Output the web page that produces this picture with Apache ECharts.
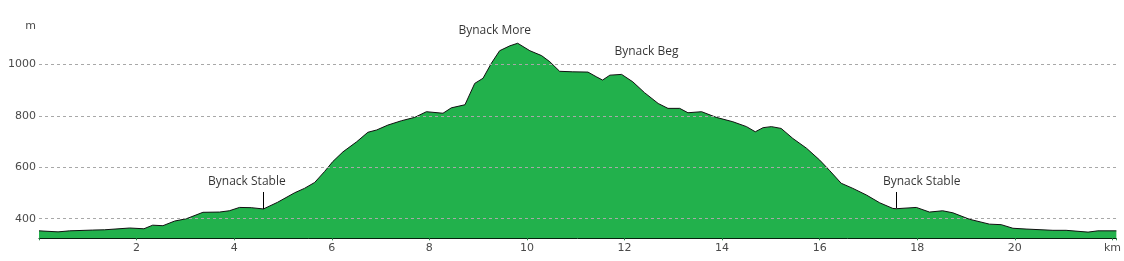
<!DOCTYPE html>
<html><head><meta charset="utf-8">
<script src="https://cdn.jsdelivr.net/npm/echarts@6/dist/echarts.min.js"></script>
<style>html,body{margin:0;padding:0;background:#fff}#c{width:1124px;height:261px}</style>
</head><body><div id="c"></div>
<script>
// distance along route (km) and elevation (m)
const distKm = [0.00,0.39,0.63,1.10,1.34,1.86,2.15,2.33,2.54,2.78,3.02,3.36,3.70,3.90,4.11,4.35,4.60,4.89,5.24,5.44,5.65,5.85,6.02,6.23,6.51,6.74,6.92,7.15,7.43,7.70,7.94,8.28,8.45,8.73,8.93,9.10,9.27,9.44,9.65,9.81,10.06,10.30,10.47,10.67,10.94,11.25,11.42,11.55,11.70,11.94,12.17,12.41,12.69,12.89,13.13,13.30,13.58,13.88,14.22,14.50,14.68,14.84,15.01,15.21,15.45,15.73,16.00,16.20,16.44,16.68,16.96,17.23,17.50,17.57,17.98,18.25,18.52,18.73,19.07,19.48,19.72,19.96,20.23,20.78,21.05,21.50,21.70,22.08];
const elevM = [353,349,353,356,357,364,361,375,373,391,400,425,426,431,444,443,438,464,501,518,541,583,622,660,699,736,745,764,781,794,816,810,831,843,926,946,1004,1053,1072,1082,1053,1034,1010,973,971,970,952,939,958,961,932,890,848,829,829,812,816,794,777,758,738,754,758,751,712,674,628,588,538,518,492,462,440,439,444,426,431,423,398,379,377,363,360,355,355,348,353,353];

// y grid levels (m) and x tick labels (km)
const gridLevels = [400,600,800,1000];
const xTicks = [2,4,6,8,10,12,14,16,18,20];
const xUnitTick = 22;

// points of interest
const poiNames = ['Bynack Stable','Bynack More','Bynack Beg','Bynack Stable'];
const poiLabelKm = [4.26, 9.34, 12.45, 18.09];
const poiLabelElev = [543, 1133, 1048, 546];
const leaderKm = [4.59, 17.56];
const leaderFrom = [438, 441];
const leaderTo = [504, 504];

const pairs = distKm.map((k,i)=>[k, elevM[i]]);
const FONT = 'DejaVu Sans';
const LABEL_COLOR = '#4a4a4a';

const chart = echarts.init(document.getElementById('c'), null, {renderer:'canvas'});
chart.setOption({
  animation:false,
  backgroundColor:'#fff',
  grid:{left:39, right:6.7, top:12.9, bottom:22.7, containLabel:false},
  xAxis:{
    type:'value', min:0, max:22.08, interval:2,
    axisLine:{show:true, lineStyle:{color:'#000', width:1}},
    axisTick:{show:true, length:2, lineStyle:{color:'#2a8a4a'}},
    splitLine:{show:false},
    axisLabel:{
      color:LABEL_COLOR, fontFamily:FONT, fontSize:11, margin:4,
      showMinLabel:true, showMaxLabel:true,
      formatter:v=> v===xUnitTick ? 'km' : (xTicks.indexOf(v)>=0 ? String(v) : '')
    }
  },
  yAxis:{
    type:'value', min:324, max:1200,
    axisLine:{show:false}, axisTick:{show:false}, axisLabel:{show:false}, splitLine:{show:false},
    name:'m', nameLocation:'end', nameGap:-13,
    nameTextStyle:{color:LABEL_COLOR, fontFamily:FONT, fontSize:11, align:'right', verticalAlign:'middle', padding:[0,3,0,0]}
  },
  series:[
    {
      type:'line', data:pairs, z:1, silent:true, symbol:'none',
      lineStyle:{opacity:0, width:0},
      markLine:{
        silent:true, symbol:'none', animation:false,
        lineStyle:{type:[3,3], color:'#a8a8a8', width:1},
        label:{show:true, position:'start', distance:3, color:LABEL_COLOR, fontFamily:FONT, fontSize:11,
               formatter:p=>String(p.value)},
        data:gridLevels.map(v=>({yAxis:v}))
      }
    },
    {
      type:'line', data:pairs, z:2, silent:true, symbol:'none', showSymbol:false,
      lineStyle:{color:'#111', width:1},
      areaStyle:{color:'#22b14c', opacity:1},
      markLine:{
        silent:true, symbol:'none', animation:false,
        lineStyle:{type:'solid', color:'#000', width:1},
        label:{show:false},
        data:leaderKm.map((k,i)=>[{coord:[k,leaderFrom[i]]},{coord:[k,leaderTo[i]]}])
      }
    },
    {
      type:'scatter', z:5, silent:true, symbolSize:1,
      itemStyle:{color:'rgba(0,0,0,0)'},
      label:{show:true, position:'inside', formatter:'{b}', color:'#000', fontFamily:'Open Sans', fontSize:12},
      data:poiLabelKm.map((k,i)=>({name:poiNames[i], value:[k, poiLabelElev[i]]}))
    }
  ]
});
</script></body></html>
